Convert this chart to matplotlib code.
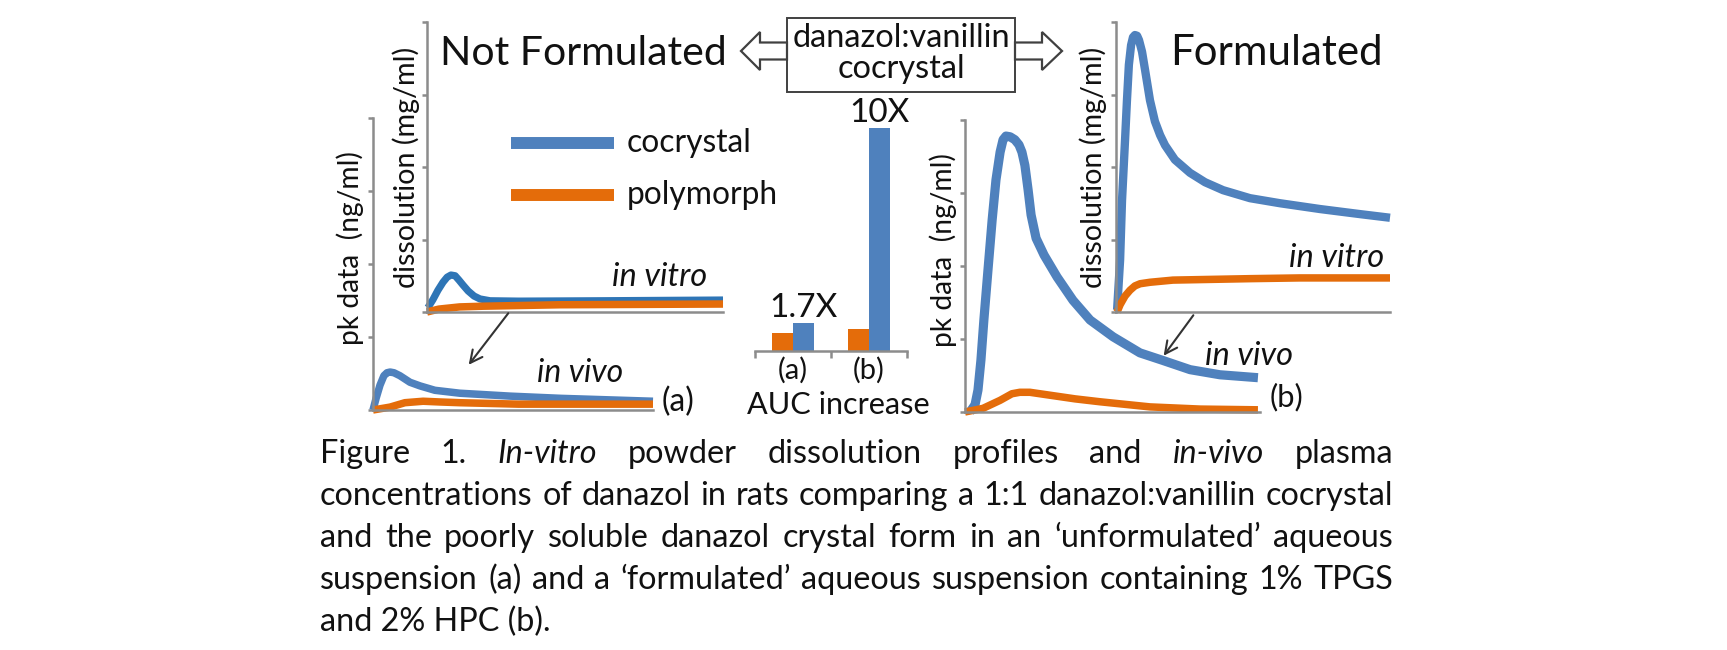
import matplotlib.pyplot as plt
from matplotlib.lines import Line2D
from matplotlib.patches import FancyArrowPatch, Polygon, Rectangle

W, H = 1727, 650
BLUE = "#4F81BD"
BLUE_DARK = "#2E75B6"
ORANGE = "#E46C0A"
GREY = "#8C8C8C"
INK = "#111111"
plt.rcParams["font.family"] = ["Lato", "DejaVu Sans"]

# ---- data (time in % of axis, y in tick units) ----
T_COCRYSTAL_VITRO_A = [0.3, 2.0, 3.7, 5.4, 6.8, 8.1, 9.5, 10.8, 12.2, 13.9, 15.9, 17.9,
                       21.3, 31, 58, 100]
COCRYSTAL_VITRO_A = [0.06, 0.17, 0.30, 0.41, 0.48, 0.51, 0.50, 0.44, 0.37, 0.29, 0.22, 0.18,
                     0.155, 0.15, 0.155, 0.165]
T_POLY_VITRO_A = [0, 4, 11, 19, 45, 100]
POLY_VITRO_A = [0, 0.04, 0.07, 0.08, 0.10, 0.11]

T_COCRYSTAL_VIVO_A = [0, 1.1, 2.5, 3.9, 5.0, 6.1, 7.5, 9.6, 13.2, 16.8, 22.1, 31, 49, 67, 100]
COCRYSTAL_VIVO_A = [0, 0.16, 0.34, 0.47, 0.51, 0.52, 0.51, 0.47, 0.38, 0.33, 0.27, 0.23,
                    0.19, 0.16, 0.12]
T_POLY_VIVO_A = [0, 6.1, 11.4, 17.9, 23.9, 31, 52, 100]
POLY_VIVO_A = [0, 0.04, 0.10, 0.12, 0.11, 0.10, 0.08, 0.08]

T_COCRYSTAL_VITRO_B = [0.4, 1.5, 2.2, 3.3, 4.0, 4.7, 5.5, 6.2, 6.9, 7.7, 8.4, 9.5, 10.6,
                       12.4, 14.2, 16.1, 17.9, 21.5, 27.0, 32.5, 39.1, 48.9, 59.9, 74.5,
                       89.1, 100]
COCRYSTAL_VITRO_B = [0.03, 0.72, 1.54, 2.37, 2.92, 3.41, 3.68, 3.79, 3.82, 3.81, 3.75, 3.59,
                     3.34, 2.92, 2.63, 2.44, 2.30, 2.10, 1.92, 1.79, 1.68, 1.57, 1.50, 1.42,
                     1.35, 1.30]
T_POLY_VITRO_B = [0.4, 1.5, 3.3, 5.1, 6.9, 8.8, 12.4, 20.8, 49, 67, 100]
POLY_VITRO_B = [0, 0.10, 0.22, 0.30, 0.36, 0.39, 0.41, 0.44, 0.46, 0.47, 0.47]

T_COCRYSTAL_VIVO_B = [1.7, 3.4, 4.4, 5.4, 6.4, 7.8, 9.2, 10.5, 11.9, 12.9, 13.9, 15.3, 16.9,
                      18.3, 19.3, 20.3, 21.4, 22.4, 24.1, 26.8, 31.2, 36.6, 42.4, 50.2,
                      59.3, 66.8, 76.3, 86.4, 99.3]
COCRYSTAL_VIVO_B = [0, 0.10, 0.30, 0.71, 1.26, 1.95, 2.63, 3.18, 3.56, 3.73, 3.78, 3.77,
                    3.73, 3.66, 3.56, 3.38, 3.04, 2.70, 2.38, 2.15, 1.85, 1.53, 1.26, 1.03,
                    0.81, 0.71, 0.58, 0.51, 0.47]
T_POLY_VIVO_B = [0, 6.1, 11.9, 15.9, 18.6, 22.0, 28.8, 37.3, 45.8, 62.7, 79.7, 99.3]
POLY_VIVO_B = [0, 0.05, 0.16, 0.25, 0.27, 0.27, 0.23, 0.18, 0.14, 0.07, 0.04, 0.03]

AUC_GROUPS = ["(a)", "(b)"]
AUC_POLY = [0.9, 1.1]
AUC_COCRYSTAL = [1.4, 11.15]
AUC_LABELS = ["1.7X", "10X"]

CAPTION = [
    "Figure 1. *In-vitro* powder dissolution profiles and *in-vivo* plasma",
    "concentrations of danazol in rats comparing a 1:1 danazol:vanillin cocrystal",
    "and the poorly soluble danazol crystal form in an \u2018unformulated\u2019 aqueous",
    "suspension (a) and a \u2018formulated\u2019 aqueous suspension containing 1% TPGS",
    "and 2% HPC (b).",
]

fig = plt.figure(figsize=(W / 100, H / 100), dpi=100)
renderer = fig.canvas.get_renderer()


def fy(y):
    return 1 - y / H


def add_panel(left, top, right, bottom):
    ax = fig.add_axes([left / W, 1 - bottom / H, (right - left) / W, (bottom - top) / H])
    ax.patch.set_alpha(0)
    for side in ("top", "right"):
        ax.spines[side].set_visible(False)
    for side in ("left", "bottom"):
        ax.spines[side].set_color(GREY)
        ax.spines[side].set_linewidth(1.8)
    ax.tick_params(colors=GREY, width=1.8, length=3.5, labelleft=False, labelbottom=False)
    ax.tick_params(axis="x", length=0)
    return ax


def label(x, y, s, width=None, size=20, vertical=False, **kw):
    t = fig.text(x / W, fy(y), s, fontsize=size, color=INK,
                 rotation=90 if vertical else 0, **kw)
    if width:
        bb = t.get_window_extent(renderer)
        t.set_fontsize(size * width / (bb.height if vertical else bb.width))
    return t


def curves(ax, t_blue, blue, t_orange, orange, blue_color=BLUE, lw=5.6):
    ax.set_xlim(0, 100)
    ax.set_ylim(0, 4)
    ax.set_yticks(range(5))
    style = dict(solid_joinstyle="round", solid_capstyle="butt", clip_on=False)
    ax.plot(t_blue, blue, color=blue_color, lw=lw, **style)
    ax.plot(t_orange, orange, color=ORANGE, lw=5.4, **style)


# ---- line panels ----
vitro_a = add_panel(427, 22, 723, 312)
curves(vitro_a, T_COCRYSTAL_VITRO_A, COCRYSTAL_VITRO_A, T_POLY_VITRO_A, POLY_VITRO_A,
       blue_color=BLUE_DARK, lw=5.2)
vivo_a = add_panel(373, 118, 653, 410)
curves(vivo_a, T_COCRYSTAL_VIVO_A, COCRYSTAL_VIVO_A, T_POLY_VIVO_A, POLY_VIVO_A, lw=5.4)
vitro_b = add_panel(1116, 22, 1390, 312)
curves(vitro_b, T_COCRYSTAL_VITRO_B, COCRYSTAL_VITRO_B, T_POLY_VITRO_B, POLY_VITRO_B, lw=6.0)
vivo_b = add_panel(965, 120, 1260, 412)
curves(vivo_b, T_COCRYSTAL_VIVO_B, COCRYSTAL_VIVO_B, T_POLY_VIVO_B, POLY_VIVO_B, lw=6.6)

# ---- AUC bars ----
bar_ax = add_panel(755, 111, 907, 351)
bar_ax.spines["left"].set_visible(False)
bar_ax.set_yticks([])
bar_ax.set_xlim(0, len(AUC_GROUPS))
bar_ax.set_ylim(0, 12)
centers = [i + 0.5 for i in range(len(AUC_GROUPS))]
bar_ax.bar([c - 0.14 for c in centers], AUC_POLY, width=0.28, color=ORANGE)
bar_ax.bar([c + 0.14 for c in centers], AUC_COCRYSTAL, width=0.28, color=BLUE)
bar_ax.set_xticks(range(len(AUC_GROUPS) + 1))
bar_ax.tick_params(axis="x", which="major", length=5, width=1.8, direction="out")
for c, g in zip(centers, AUC_GROUPS):
    bar_ax.annotate(g, (c, 0), xytext=(0, -19), textcoords="offset pixels",
                    ha="center", va="center", fontsize=21, color=INK, annotation_clip=False)
for c, v, s in zip(centers, AUC_COCRYSTAL, AUC_LABELS):
    bar_ax.annotate(s, (c + 0.14, v), xytext=(0, 0), textcoords="offset points",
                    ha="center", va="bottom", fontsize=24, color=INK)
label(838, 414, "AUC increase", width=183, size=24, ha="center", va="baseline")

# ---- titles, box and block arrows ----
label(440, 65, "Not Formulated", width=288, size=32, va="baseline")
label(1170, 65, "Formulated", width=213, size=32, va="baseline")
box_text = label(901, 47, "danazol:vanillin", width=218, size=20, ha="center", va="baseline")
label(901, 78, "cocrystal", size=box_text.get_fontsize(), ha="center", va="baseline")
fig.add_artist(Rectangle((787 / W, fy(92)), 228 / W, 74 / H, transform=fig.transFigure,
                         facecolor="none", edgecolor="#404040", lw=1.4))
for pts in ([(741, 51), (760, 32), (760, 42.5), (787, 42.5), (787, 59.5), (760, 59.5), (760, 70)],
            [(1062, 51), (1042, 32), (1042, 42.5), (1015, 42.5), (1015, 59.5), (1042, 59.5), (1042, 70)]):
    fig.add_artist(Polygon([(x / W, fy(y)) for x, y in pts], closed=True,
                           transform=fig.transFigure, facecolor="white",
                           edgecolor="#404040", lw=1.6, joinstyle="miter"))

# ---- legend ----
legend = label(627, 195, "polymorph", width=151, size=24, va="center")
label(627, 143, "cocrystal", size=legend.get_fontsize(), va="center")
for y, c in ((143, BLUE), (195, ORANGE)):
    fig.add_artist(Line2D([511 / W, 614 / W], [fy(y), fy(y)], color=c, lw=8.6,
                          solid_capstyle="butt"))

# ---- axis labels and panel notes ----
for x, y, s, w in ((406, 167, "dissolution (mg/ml)", 240), (350, 248, "pk data  (ng/ml)", 193),
                   (1093, 167, "dissolution (mg/ml)", 240), (943, 250, "pk data  (ng/ml)", 193)):
    label(x, y, s, width=w, size=22, vertical=True, ha="center", va="center")

label(612, 286, "in vitro", width=95, size=22, style="italic", va="baseline")
label(1289, 267, "in vitro", width=95, size=22, style="italic", va="baseline")
label(537, 382, "in vivo", width=86, size=22, style="italic", va="baseline")
label(1205, 365, "in vivo", width=88, size=22, style="italic", va="baseline")
label(662, 402, "(a)", width=33, size=24, va="center")
label(1270, 397, "(b)", width=34, size=24, va="center")

for (x0, y0), (x1, y1) in (((510, 311), (467, 367)), ((1195, 313), (1162, 358))):
    fig.add_artist(FancyArrowPatch((x0 / W, fy(y0)), (x1 / W, fy(y1)),
                                   transform=fig.transFigure, arrowstyle="->",
                                   mutation_scale=22, lw=1.5, color="#333333"))

# ---- justified caption ----
CAP_LEFT, CAP_RIGHT = 320, 1393
CAP_BASE, CAP_STEP = 463, 42
probe = fig.text(0, 0, CAPTION[1], fontsize=20)
cap_size = 20 * 1062 / probe.get_window_extent(renderer).width
probe.remove()

for i, line in enumerate(CAPTION):
    y = fy(CAP_BASE + i * CAP_STEP)
    if i == len(CAPTION) - 1:
        fig.text(CAP_LEFT / W, y, line, fontsize=cap_size, color=INK, va="baseline")
        continue
    words = line.split(" ")
    texts = [fig.text(0, y, w.strip("*"), fontsize=cap_size, color=INK, va="baseline",
                      style="italic" if w.startswith("*") else "normal") for w in words]
    widths = [t.get_window_extent(renderer).width for t in texts]
    gap = (CAP_RIGHT - CAP_LEFT - sum(widths)) / (len(words) - 1)
    x = CAP_LEFT
    for t, w in zip(texts, widths):
        t.set_x(x / W)
        x += w + gap

fig.savefig("out.png", dpi=100)
